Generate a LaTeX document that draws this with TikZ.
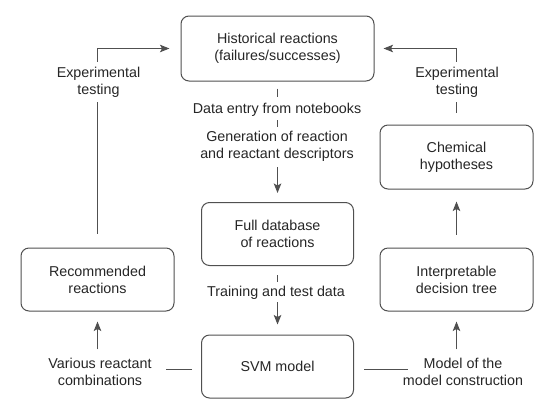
\documentclass[tikz,border=0pt]{standalone}
\usepackage{fontspec}
\setmainfont{Liberation Sans}
\usetikzlibrary{arrows.meta}
\definecolor{ln}{HTML}{505050}
\definecolor{tx}{HTML}{262626}
\begin{document}
\begin{tikzpicture}[x=1pt,y=-1pt,
  box/.style={draw=ln, line width=1pt, rounded corners=8pt, align=center, text=tx, font=\fontsize{14.3}{17}\selectfont, inner sep=0pt},
  lbl/.style={align=center, text=tx, font=\fontsize{14.3}{17}\selectfont, inner sep=0pt},
  conn/.style={draw=ln, line width=1.1pt},
  arr/.style={conn, -{Stealth[length=9.5pt,width=7.5pt,inset=2pt]}}]
\useasboundingbox (0,0) rectangle (556,413);
\fill[white] (0,0) rectangle (556,413);
% boxes
\node[box, minimum width=193pt, minimum height=65pt] (hist) at (277.5,48.5) {Historical reactions\\(failures/successes)};
\node[box, minimum width=152pt, minimum height=63pt] (full) at (277.5,234) {Full database\\of reactions};
\node[box, minimum width=152pt, minimum height=63pt] (svm) at (277.5,366.5) {SVM model};
\node[box, minimum width=153pt, minimum height=63pt] (rec) at (97.5,279.5) {Recommended\\reactions};
\node[box, minimum width=153pt, minimum height=63pt] (interp) at (456.5,279.5) {Interpretable\\decision tree};
\node[box, minimum width=153pt, minimum height=64pt] (chem) at (456.5,157) {Chemical\\hypotheses};
% labels
\node[lbl] (dataentry) at (277,110) {Data entry from notebooks};
\node[lbl] (gen) at (277,146.5) {Generation of reaction\\and reactant descriptors};
\node[lbl] (train) at (276,293) {Training and test data};
\node[lbl] (exL) at (98.5,82.5) {Experimental\\testing};
\node[lbl] (exR) at (457,82.5) {Experimental\\testing};
\node[lbl] (various) at (100,372) {Various reactant\\combinations};
\node[lbl] (modelof) at (463,372) {Model of the\\model construction};
% central flow
\draw[conn, shorten <=7pt, shorten >=6pt] (hist.south) -- (dataentry.north -| hist.south);
\draw[conn, shorten <=3.3pt, shorten >=4.3pt] (dataentry.south -| hist.south) -- (gen.north -| hist.south);
\draw[arr, shorten <=5.3pt, shorten >=9pt] (gen.south -| hist.south) -- (full.north);
\draw[conn, shorten <=9pt, shorten >=4.3pt] (full.south) -- (train.north -| full.south);
\draw[arr, shorten <=2.3pt, shorten >=10pt] (train.south -| full.south) -- (svm.north);
% left loop
\draw[conn, shorten <=9pt, shorten >=14pt] ([yshift=-3pt]svm.west) -- ([yshift=-3pt]svm.west -| various.east);
\draw[arr, shorten <=8.8pt, shorten >=10pt] (rec.south |- various.north) -- (rec.south);
\draw[conn, shorten <=14pt, shorten >=4.3pt] (rec.north) -- (rec.north |- exL.south);
\draw[arr, shorten <=5.3pt, shorten >=11pt] (rec.north |- exL.north) |- (hist.west);
% right loop
\draw[conn, shorten <=10pt, shorten >=-5pt] ([yshift=-3pt]svm.east) -- ([yshift=-3pt]svm.east -| modelof.west);
\draw[arr, shorten <=8.8pt, shorten >=10pt] (interp.south |- modelof.north) -- (interp.south);
\draw[arr, shorten <=13pt, shorten >=12pt] (interp.north) -- (chem.south);
\draw[conn, shorten <=12pt, shorten >=4.3pt] (chem.north) -- (chem.north |- exR.south);
\draw[arr, shorten <=5.3pt, shorten >=9pt] (chem.north |- exR.north) |- (hist.east);
\end{tikzpicture}
\end{document}
